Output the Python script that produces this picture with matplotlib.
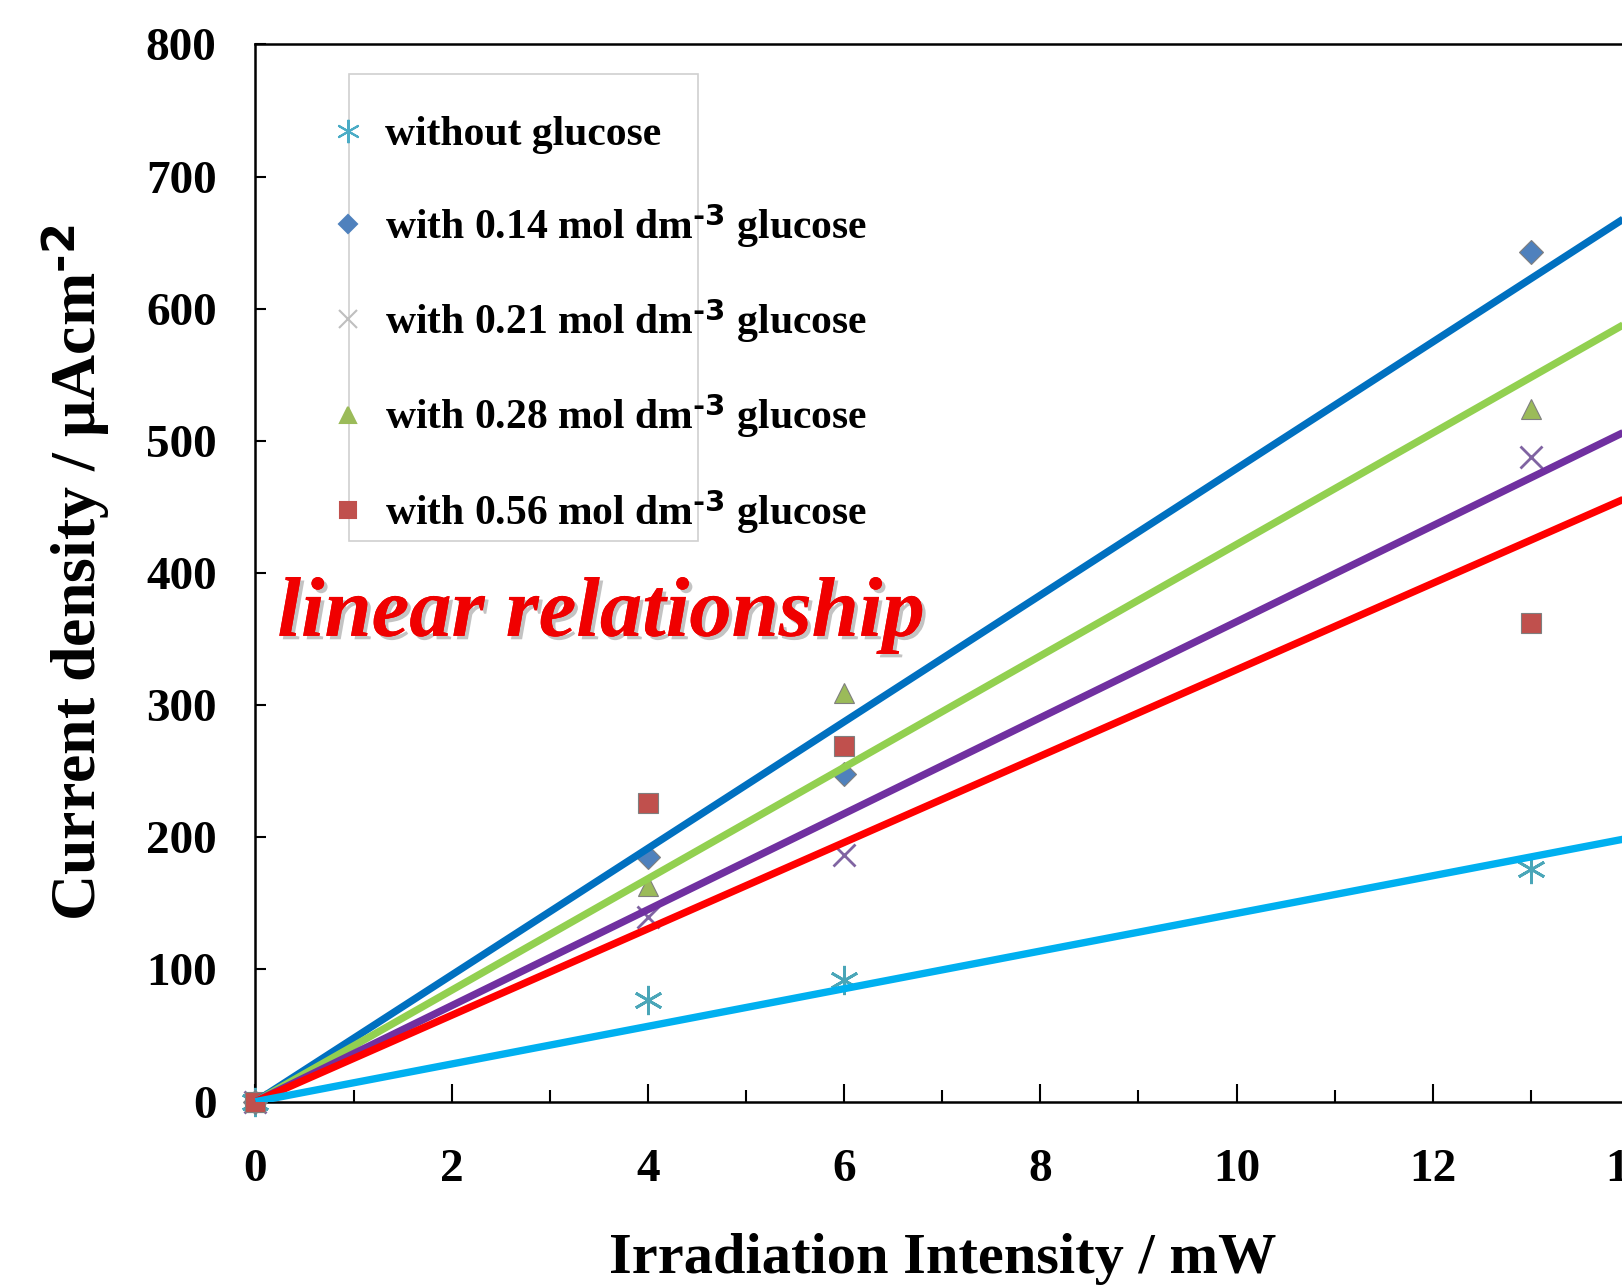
import numpy as np
import matplotlib
matplotlib.use("Agg")
import matplotlib.pyplot as plt
import matplotlib.patheffects as pe
from matplotlib.lines import Line2D
from matplotlib.patches import Rectangle

plt.rcParams['font.family'] = ['Liberation Serif', 'DejaVu Serif']
plt.rcParams['font.weight'] = 'bold'
plt.rcParams['mathtext.default'] = 'regular'

# data
intensity = [0, 4, 6, 13]
without_glucose = [0, 77, 92, 176]
glucose_014 = [0, 185, 248, 643]
glucose_021 = [0, 140, 187, 488]
glucose_028 = [0, 163, 309, 524]
glucose_056 = [0, 226, 269, 362]

labels = ['without glucose',
          r'with 0.14 mol dm$^{\text{-3}}$ glucose',
          r'with 0.21 mol dm$^{\text{-3}}$ glucose',
          r'with 0.28 mol dm$^{\text{-3}}$ glucose',
          r'with 0.56 mol dm$^{\text{-3}}$ glucose']

series = [without_glucose, glucose_014, glucose_021, glucose_028, glucose_056]
markers = [(6, 2, 0), 'D', 'x', '^', 's']
marker_sizes = [21, 12, 16, 15, 14]
marker_colors = ['#4AA6B8', '#4F81BD', '#8064A2', '#9BBB59', '#C0504D']
legend_colors = ['#4BACC6', '#4F81BD', '#BFBFBF', '#9BBB59', '#C0504D']

fig = plt.figure(figsize=(16.22, 12.85), dpi=100)
ax = fig.add_axes([0.1575, 0.1427, 0.8468, 0.8227])

x = np.array(intensity, dtype=float)
xfit = np.linspace(0, 14, 50)
for vals, m, ms, mc in zip(series, markers, marker_sizes, marker_colors):
    thin = m in ('x',) or isinstance(m, tuple)
    ax.plot(x, vals, linestyle='none', marker=m, markersize=ms, color=mc,
            markeredgecolor=mc if thin else '#7f7f7f',
            markeredgewidth=2 if thin else 0.8, zorder=3, clip_on=False)

# linear trend lines through origin
for vals, lc in zip([glucose_014, glucose_028, glucose_021, glucose_056, without_glucose],
                    ['#0070C0', '#92D050', '#7030A0', '#FF0000', '#00B0F0']):
    y = np.array(vals, dtype=float)
    slope = np.sum(x * y) / np.sum(x * x)
    ax.plot(xfit, slope * xfit, color=lc, linewidth=5.3, zorder=4, solid_capstyle='butt')

ax.set_xlim(0, 14)
ax.set_ylim(0, 800)
ax.set_xticks(np.arange(0, 15, 2))
ax.set_xticks(np.arange(1, 15, 2), minor=True)
ax.set_yticks(np.arange(0, 801, 100))
ax.tick_params(axis='x', which='major', direction='in', length=13, width=1.5, pad=34, labelsize=34)
ax.tick_params(axis='x', which='minor', direction='in', length=9, width=1.5)
ax.tick_params(axis='y', which='major', direction='in', length=8, width=1.5, pad=28, labelsize=34)
for s in ax.spines.values():
    s.set_linewidth(1.8)

ax.set_xlabel('Irradiation Intensity / mW', fontsize=42, fontweight='bold', labelpad=30)
ax.set_ylabel('Current density / \u03bcAcm$^{\\text{-2}}$', fontsize=46, fontweight='bold', labelpad=24)

ax.text(0.016, 0.46, 'linear relationship', transform=ax.transAxes, color='#F00000',
        fontsize=61, fontweight='bold', style='italic', va='center', ha='left', zorder=6,
        path_effects=[pe.withSimplePatchShadow(offset=(2.5, -2.5), shadow_rgbFace='#555555', alpha=0.35),
                      pe.Normal()])

# legend box is narrower than its entries, as in the source
ax.add_patch(Rectangle((0.0678, 0.5303), 0.2546, 0.4413, transform=ax.transAxes,
                       facecolor='white', edgecolor='#D0D0D0', linewidth=1.2, zorder=5))
handles = [Line2D([], [], linestyle='none', marker=m, markersize=ms * 0.8, color=c,
                  markeredgecolor=c, markeredgewidth=1.5)
           for m, ms, c in zip(markers, marker_sizes, legend_colors)]
leg = ax.legend(handles, labels, loc='upper left', bbox_to_anchor=(0.046, 0.948),
                frameon=False, fontsize=30, handlelength=0.6, handletextpad=0.6,
                labelspacing=1.12, borderaxespad=0)
leg.set_zorder(7)

plt.savefig('out.png', dpi=100)
